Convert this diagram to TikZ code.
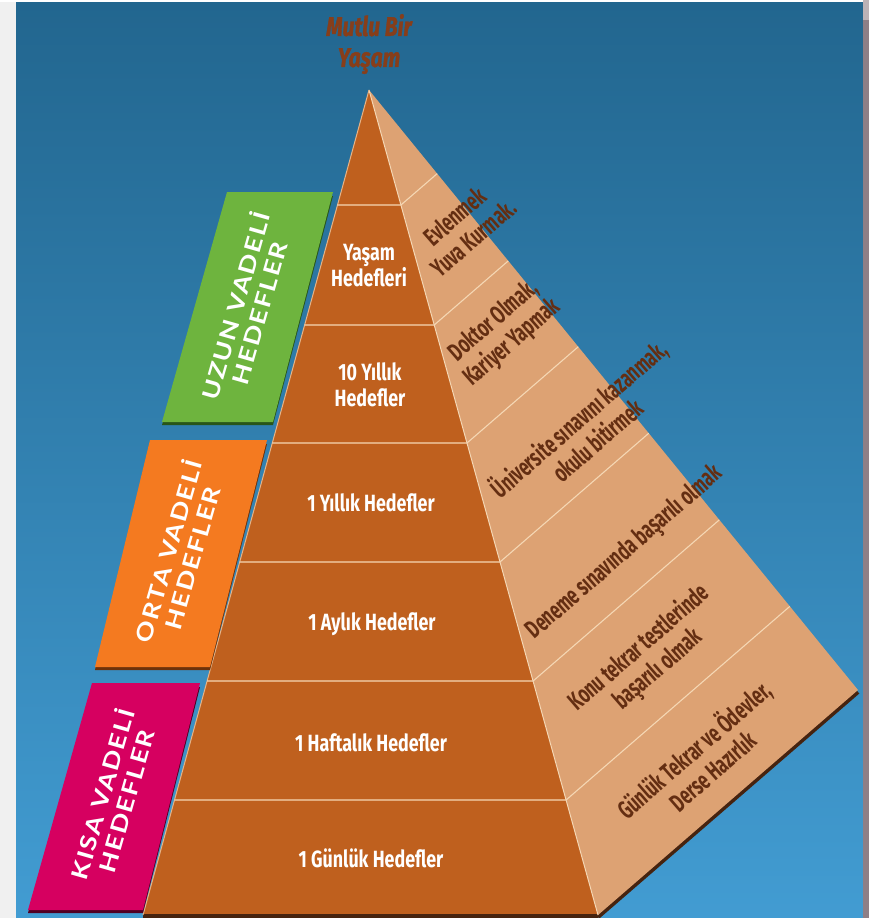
\documentclass[tikz,border=0pt]{standalone}
\usepackage{fontspec}
\setmainfont{Fira Sans}
\newfontfamily\frontfont[FakeStretch=0.76]{Fira Sans}
\newfontfamily\sidefont[FakeStretch=0.65]{Fira Sans}
\newfontfamily\titlefont[FakeStretch=0.78, FakeBold=1.2]{Fira Sans}
\newfontfamily\boxfont[FakeStretch=1.2, LetterSpace=8]{Lato}
\usetikzlibrary{calc}
\definecolor{bgtop}{RGB}{34,102,143}
\definecolor{bgbot}{RGB}{66,156,210}
\definecolor{frontc}{RGB}{191,96,30}
\definecolor{sidec}{RGB}{221,162,115}
\definecolor{sepc}{RGB}{245,215,180}
\definecolor{sidetxt}{RGB}{100,46,18}
\definecolor{shadowc}{RGB}{70,35,15}
\definecolor{greenc}{RGB}{110,180,62}
\definecolor{greend}{RGB}{40,85,25}
\definecolor{orangec}{RGB}{244,122,32}
\definecolor{oranged}{RGB}{110,50,10}
\definecolor{pinkc}{RGB}{214,0,96}
\definecolor{pinkd}{RGB}{80,0,35}
\definecolor{stripc}{RGB}{142,127,134}
\definecolor{titlec}{RGB}{135,62,26}
\tikzset{
  fronttext/.style={text=white, font=\frontfont\bfseries\fontsize{23.5}{26}\selectfont, align=center, inner sep=0pt},
  sidetext/.style={text=sidetxt, font=\sidefont\bfseries\fontsize{25.5}{28.5}\selectfont, align=center, inner sep=0pt, rotate=41},
  boxtext/.style={text=white, font=\boxfont\bfseries\fontsize{22.5}{25}\selectfont, align=center, inner sep=0pt, rotate=74},
  sepline/.style={draw=sepc, line width=1.1pt},
  edgeline/.style={draw=sepc, line width=1pt},
}
\begin{document}
\begin{tikzpicture}[x=1pt,y=-1pt]
\useasboundingbox (0,0) rectangle (869,918);
% background
\fill[white] (0,0) rectangle (869,918);
\fill[black!6] (0,2) rectangle (16,918);
\shade[top color=bgtop, bottom color=bgbot] (16,2) rectangle (863,918);
\fill[stripc] (863,0) rectangle (869,918);
\fill[stripc!60!white] (863,0) rectangle (869,20);
% pyramid
\coordinate (A) at (369,90);
\coordinate (FL) at (143,915);
\coordinate (FR) at (598,915);
\coordinate (BK) at (858,690);
\draw[shadowc, line width=4pt] ($(FR)+(0,2)$) -- ($(BK)+(0,2)$);
\fill[sidec] (A) -- (FR) -- (BK) -- cycle;
\fill[frontc] (A) -- (FL) -- (FR) -- cycle;
\fill[shadowc] ($(FL)+(0,-1)$) rectangle ($(FR)+(0,3)$);
\draw[edgeline] (A) -- (FR);
\draw[edgeline, draw=sepc!70!frontc] (A) -- (FL);
\foreach \f in {0.1394,0.2848,0.4279,0.5721,0.7164,0.8606}{
  \draw[sepline] ($(A)!\f!(FL)$) -- ($(A)!\f!(FR)$) -- ($(A)!\f!(BK)$);
}
% front texts
\node[fronttext] (f1) at (369,266) {Yaşam\\Hedefleri};
\node[fronttext] (f2) at (370,385) {10 Yıllık\\Hedefler};
\node[fronttext] (f3) at (371,503) {1 Yıllık Hedefler};
\node[fronttext] (f4) at (372,624) {1 Aylık Hedefler};
\node[fronttext] (f5) at (371,743) {1 Haftalık Hedefler};
\node[fronttext] (f6) at (371,858) {1 Günlük Hedefler};
% side texts
\node[sidetext] (s1) at (464,227) {Evlenmek\\Yuva Kurmak.};
\node[sidetext] (s2) at (503,332) {Doktor Olmak,\\Kariyer Yapmak};
\node[sidetext] (s3) at (587,428) {Üniversite sınavını kazanmak,\\okulu bitirmek};
\node[sidetext] (s4) at (625,553) {Deneme sınavında başarılı olmak};
\node[sidetext] (s5) at (649,659) {Konu tekrar testlerinde\\başarılı olmak};
\node[sidetext] (s6) at (702,759) {Günlük Tekrar ve Ödevler,\\Derse Hazırlık};
% title
\node[text=titlec, font=\titlefont\bfseries\itshape\fontsize{27}{31}\selectfont, align=center, inner sep=0pt] (title) at (369,44) {Mutlu Bir\\Yaşam};
% left boxes
\fill[greend] (227,196) -- (333,196) -- (273,425) -- (162,425) -- cycle;
\fill[greenc] (227,192) -- (333,192) -- (273,422) -- (162,422) -- cycle;
\node[boxtext] (b1) at (246,309) {UZUN VADELİ\\HEDEFLER};
\fill[oranged] (150,444) -- (267,444) -- (210,670) -- (95,670) -- cycle;
\fill[orangec] (150,440) -- (267,440) -- (210,667) -- (95,667) -- cycle;
\node[boxtext] (b2) at (179,554) {ORTA VADELİ\\HEDEFLER};
\fill[pinkd] (92,687) -- (200,687) -- (143,913) -- (28,913) -- cycle;
\fill[pinkc] (92,683) -- (200,683) -- (143,910) -- (28,910) -- cycle;
\node[boxtext] (b3) at (113,797) {KISA VADELİ\\HEDEFLER};
\end{tikzpicture}
\end{document}
